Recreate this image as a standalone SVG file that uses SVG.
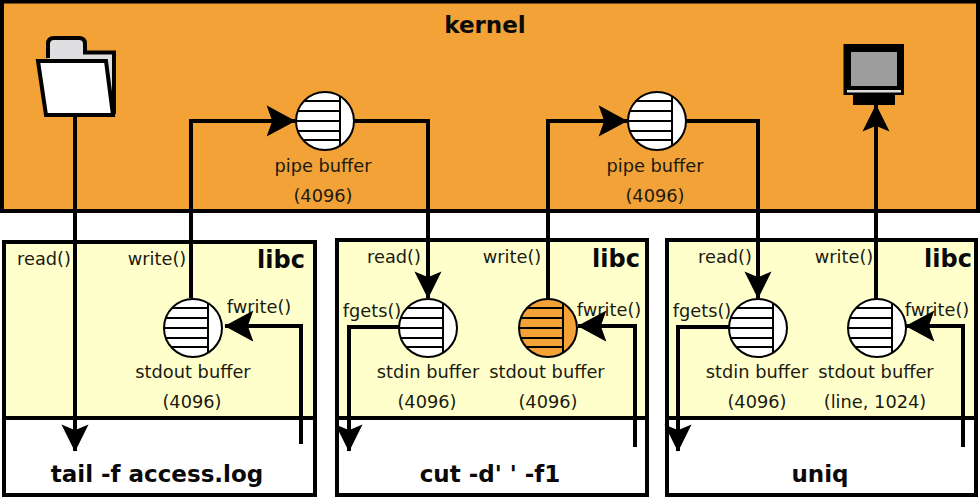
<svg xmlns="http://www.w3.org/2000/svg" width="980" height="500" viewBox="0 0 980 500">
<style>
text{font-family:"DejaVu Sans",sans-serif;fill:#1a1a10;text-anchor:middle}
.s{font-size:17.8px}
.b{font-size:23px;font-weight:bold;fill:#0a0a0a}
.l{font-size:24px;font-weight:bold;fill:#0a0a0a}
.box{stroke:#000;stroke-width:4;fill:#fff}
.libc{stroke:#000;stroke-width:4;fill:#ffffcc}
.c{fill:none;stroke:#000;stroke-width:4;stroke-linejoin:miter}
.bl{stroke:#000;stroke-width:2;fill:none}
.buf{fill:#fff;stroke:#000;stroke-width:2}
.or{fill:#f3a238;stroke:#000;stroke-width:2}
</style>
<defs>
<marker id="h" markerUnits="userSpaceOnUse" markerWidth="32" markerHeight="34" viewBox="0 0 32 34" refX="29" refY="17" orient="auto">
<path d="M2 3L28 17L2 31L7 17Z" fill="#000" stroke="#000" stroke-width="1.500" stroke-linejoin="miter"/>
</marker>
<marker id="v" markerUnits="userSpaceOnUse" markerWidth="32" markerHeight="34" viewBox="0 0 32 34" refX="29" refY="17" orient="auto">
<path d="M4 5L28 17L4 29L9 17Z" fill="#000" stroke="#000" stroke-width="1.500" stroke-linejoin="miter"/>
</marker>
<g id="lines"><path class="bl" d="M-21 -20H15M-27 -10H15M-29 0H15M-27 10H15M-22 19H15M15 -25V25"/></g>
</defs>
<rect width="980" height="500" fill="#fff"/>
<g id="kernel">
<rect x="2" y="1.500" width="976" height="209.500" fill="#f3a238" stroke="#000" stroke-width="4"/>
<text class="b" x="485" y="33">kernel</text>
</g>
<g id="file">
<path d="M48 58V44Q48 38 54 38H79Q85 38 85 44V52.500H114V114" fill="#dfdfe2" stroke="#000" stroke-width="4"/>
<path d="M106 61L113 115H46L38 61Z" fill="#fff" stroke="#000" stroke-width="4"/>
</g>
<g id="terminal">
<rect x="845.500" y="46" width="56.500" height="47" fill="#000" stroke="#000" stroke-width="4"/>
<rect x="851" y="52" width="46" height="34" fill="#9d9d9d"/>
<rect x="847" y="90" width="54" height="2.500" fill="#ddd"/>
<rect x="853" y="95" width="42" height="10" fill="#000"/>
</g>
<g id="pipe1">
<circle class="buf" cx="325" cy="121" r="29"/><use href="#lines" x="325" y="121"/>
<text class="s" x="323" y="172">pipe buffer</text><text class="s" x="323" y="202">(4096)</text>
</g>
<g id="pipe2">
<circle class="buf" cx="657" cy="121" r="29"/><use href="#lines" x="657" y="121"/>
<text class="s" x="655" y="172">pipe buffer</text><text class="s" x="655" y="202">(4096)</text>
</g>
<g id="proc1">
<rect class="box" x="4" y="242" width="311" height="253"/>
<rect class="libc" x="4" y="242" width="311" height="176"/>
<text class="l" x="281" y="268">libc</text>
<text class="s" x="44" y="265">read()</text><text class="s" x="157" y="265">write()</text><text class="s" x="259" y="313">fwrite()</text>
<text class="b" x="157" y="482">tail -f access.log</text>
</g>
<g id="buf1">
<circle class="buf" cx="193" cy="328" r="29"/><use href="#lines" x="193" y="328"/>
<text class="s" x="193" y="378">stdout buffer</text><text class="s" x="192" y="408">(4096)</text>
</g>
<g id="proc2">
<rect class="box" x="337" y="240" width="310" height="255"/>
<rect class="libc" x="337" y="240" width="310" height="178"/>
<text class="l" x="616" y="267">libc</text>
<text class="s" x="394" y="263">read()</text><text class="s" x="512" y="263">write()</text><text class="s" x="372" y="317">fgets()</text><text class="s" x="609" y="316">fwrite()</text>
<text class="b" x="490" y="482">cut -d' ' -f1</text>
</g>
<g id="buf2">
<circle class="buf" cx="428" cy="328" r="29"/><use href="#lines" x="428" y="328"/>
<text class="s" x="428" y="378">stdin buffer</text><text class="s" x="427" y="408">(4096)</text>
</g>
<g id="buf3">
<circle class="or" cx="548" cy="328" r="29"/><use href="#lines" x="548" y="328"/>
<text class="s" x="547" y="378">stdout buffer</text><text class="s" x="548" y="408">(4096)</text>
</g>
<g id="proc3">
<rect class="box" x="667" y="240" width="309" height="255"/>
<rect class="libc" x="667" y="240" width="309" height="178"/>
<text class="l" x="948" y="267">libc</text>
<text class="s" x="725" y="263">read()</text><text class="s" x="844" y="263">write()</text><text class="s" x="702" y="317">fgets()</text><text class="s" x="937" y="316">fwrite()</text>
<text class="b" x="820" y="482">uniq</text>
</g>
<g id="buf4">
<circle class="buf" cx="758" cy="328" r="29"/><use href="#lines" x="758" y="328"/>
<text class="s" x="757" y="378">stdin buffer</text><text class="s" x="757" y="408">(4096)</text>
</g>
<g id="buf5">
<circle class="buf" cx="877" cy="328" r="29"/><use href="#lines" x="877" y="328"/>
<text class="s" x="876" y="378">stdout buffer</text><text class="s" x="875" y="408">(line, 1024)</text>
</g>
<g id="connectors">
<path class="c" marker-end="url(#v)" d="M75 115V451"/>
<path class="c" marker-end="url(#h)" d="M191 298V121H295"/>
<path class="c" marker-end="url(#v)" d="M355 121H428V298"/>
<path class="c" marker-end="url(#v)" d="M399 327H349V451"/>
<path class="c" marker-end="url(#h)" d="M548 299V121H627"/>
<path class="c" marker-end="url(#v)" d="M686 121H758V298"/>
<path class="c" marker-end="url(#v)" d="M729 327H678V451"/>
<path class="c" marker-end="url(#v)" d="M876 299V105"/>
<path class="c" marker-end="url(#h)" d="M301 444V326H225"/>
<path class="c" marker-end="url(#h)" d="M635 447V326H578"/>
<path class="c" marker-end="url(#h)" d="M963 447V326H906"/>
</g>
</svg>
